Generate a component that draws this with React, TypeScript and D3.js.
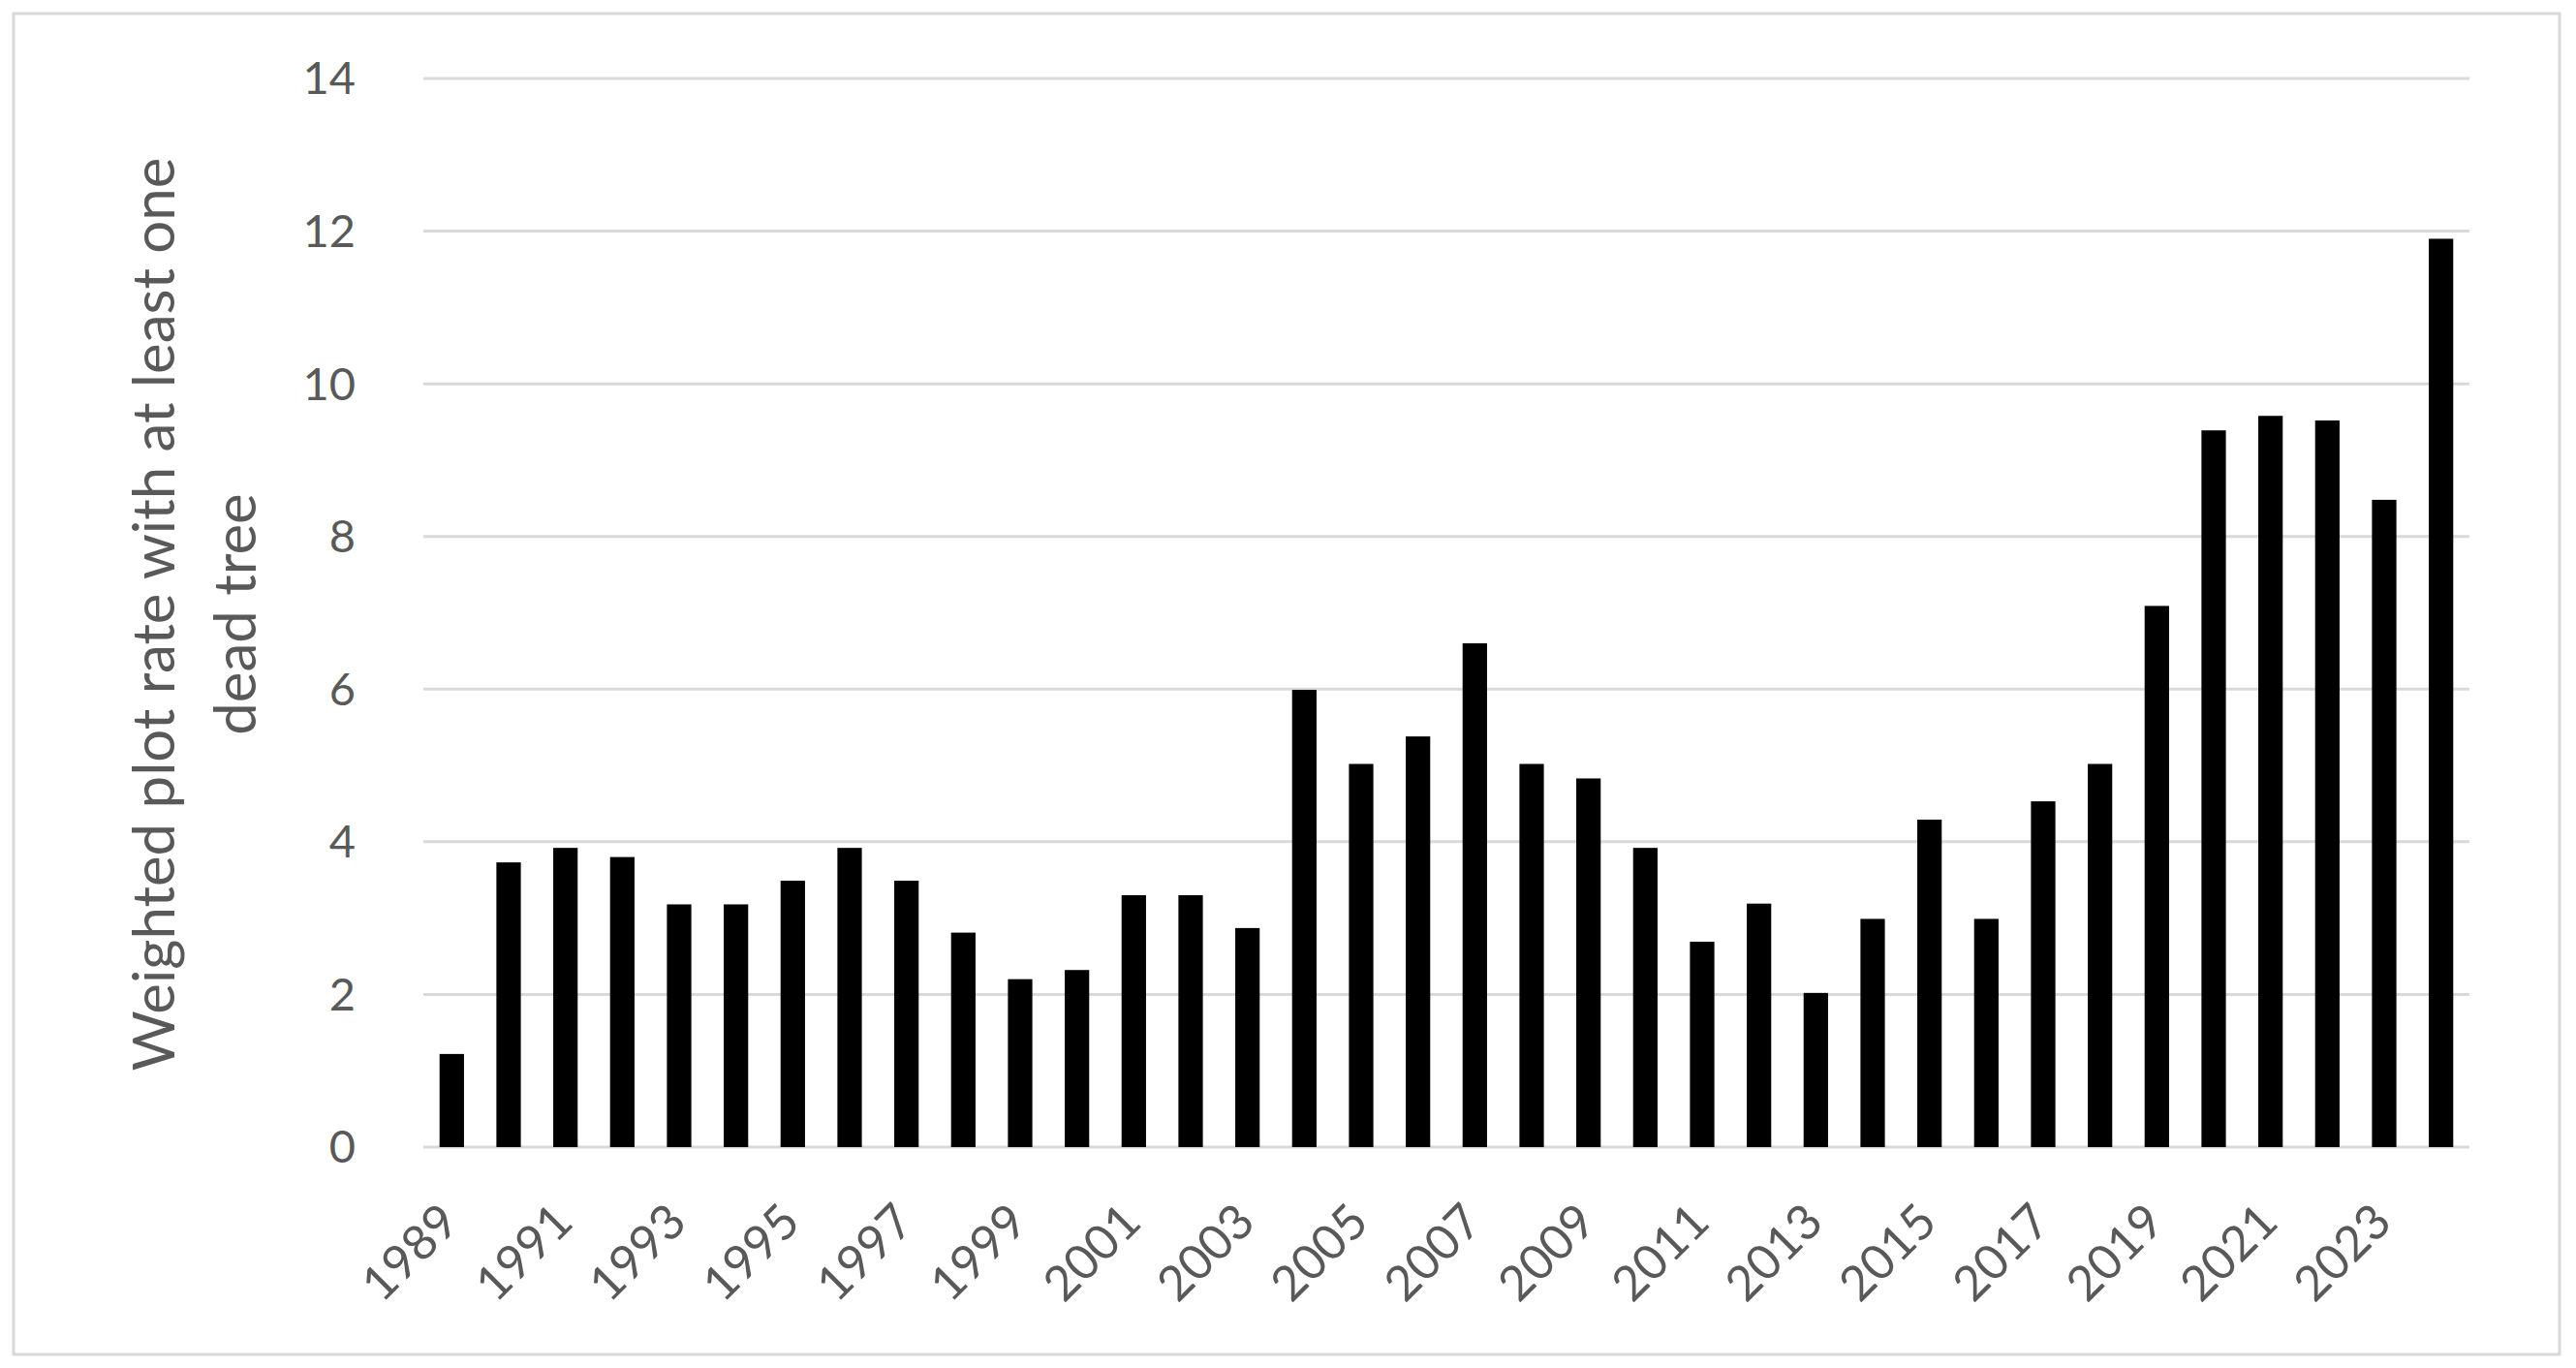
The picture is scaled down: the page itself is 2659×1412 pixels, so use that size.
import React from 'react';
import * as d3 from 'd3';

const years = d3.range(1989, 2025).map(String);
const rates = [
  1.22, 3.73, 3.92, 3.8, 3.18, 3.18, 3.49, 3.92, 3.49, 2.81,
  2.2, 2.32, 3.3, 3.3, 2.87, 5.99, 5.02, 5.38, 6.6, 5.02,
  4.83, 3.92, 2.69, 3.19, 2.02, 2.99, 4.29, 2.99, 4.53, 5.02,
  7.09, 9.39, 9.58, 9.52, 8.48, 11.9,
];
const yTicks = [0, 2, 4, 6, 8, 10, 12, 14];
const xLabels = years.filter((_, i) => i % 2 === 0);
const titleLines = ['Weighted plot rate with at least one', 'dead tree'];

const W = 2659;
const H = 1412;
const font = 'Lato, "Open Sans", sans-serif';
const grey = '#595959';

export default function App() {
  const x = d3.scaleBand<string>()
    .domain(years)
    .range([437, 2549])
    .paddingInner(0.57)
    .paddingOuter(0.285);

  const y = d3.scaleLinear().domain([0, 14]).range([1184, 81]);

  return (
    <svg width={W} height={H} style={{ position: 'fixed', top: 0, left: 0, background: '#fff' }}>
      <rect x={14} y={14} width={2628} height={1384} fill="#fff" stroke="#d9d9d9" strokeWidth={3} />

      {/* gridlines */}
      {yTicks.map(t => (
        <line key={t} x1={437} x2={2549} y1={y(t)} y2={y(t)} stroke="#d9d9d9" strokeWidth={3} />
      ))}

      {/* bars */}
      {rates.map((v, i) => (
        <rect
          key={years[i]}
          x={x(years[i])}
          y={y(v)}
          width={x.bandwidth()}
          height={y(0) - y(v)}
          fill="#000"
        />
      ))}

      {/* y tick labels */}
      {yTicks.map(t => (
        <text key={t} x={367} y={y(t)} dy="0.35em" textAnchor="end"
          fontFamily={font} fontSize={47} fill={grey}>{t}</text>
      ))}

      {/* x tick labels */}
      {xLabels.map(l => {
        const cx = (x(l) as number) + x.bandwidth() / 2 + 10;
        return (
          <text key={l} transform={`translate(${cx},1264) rotate(-45)`} textAnchor="end"
            fontFamily={font} fontSize={50} fill={grey}>{l}</text>
        );
      })}

      {/* y axis title */}
      <g transform="translate(0,634)">
        {titleLines.map((line, i) => (
          <text key={i} transform={`translate(${180 + i * 84},0) rotate(-90)`} textAnchor="middle"
            fontFamily={font} fontSize={60} fill={grey}>{line}</text>
        ))}
      </g>
    </svg>
  );
}
